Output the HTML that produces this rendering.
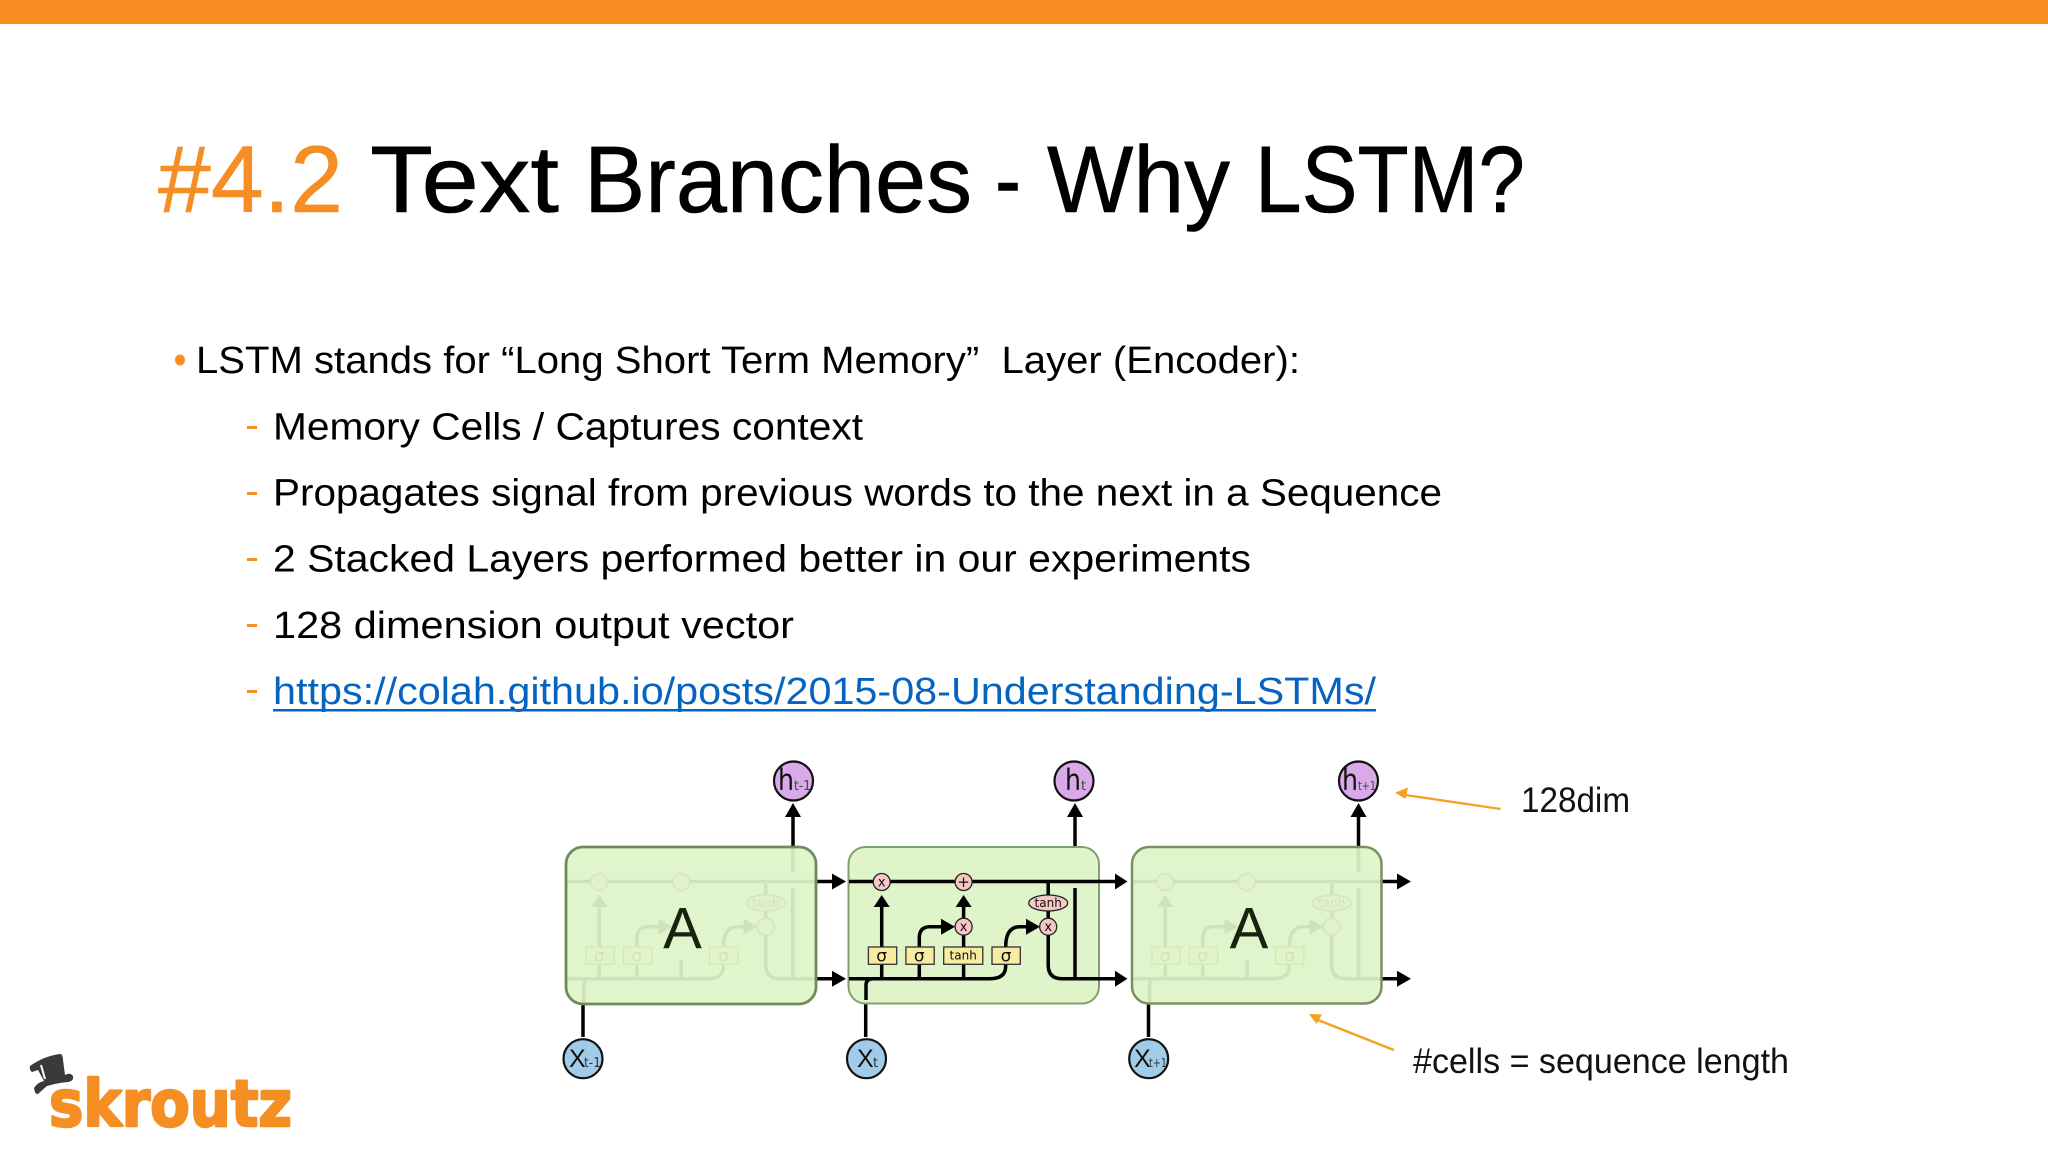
<!DOCTYPE html>
<html><head><meta charset="utf-8"><style>
html,body{margin:0;padding:0;background:#fff;width:2048px;height:1152px;overflow:hidden}
svg{display:block}
text{font-family:"Liberation Sans",sans-serif}
.sl{font-family:"DejaVu Sans",sans-serif}
.ln{fill:none;stroke:#000;stroke-width:3.5}
.ah{fill:#000}
.pk{fill:#f6c7c3;stroke:#222;stroke-width:1.3}
.yl{fill:#f8eca0;stroke:#333;stroke-width:1.3}
.t{font-family:"DejaVu Sans",sans-serif;text-anchor:middle;fill:#111}
.bd{font-size:38px;fill:#000}
.ti{font-size:95px;fill:#000;stroke:#000;stroke-width:.6}
</style></head><body>
<svg width="2048" height="1152" viewBox="0 0 2048 1152" xmlns="http://www.w3.org/2000/svg">
<rect width="2048" height="1152" fill="#fff"/>
<rect width="2048" height="24" fill="#f98f23"/>

<text x="158" y="212" font-size="95" fill="#f68e26" stroke="#f68e26" stroke-width=".6" textLength="185" lengthAdjust="spacingAndGlyphs">#4.2</text>
<text class="ti" x="370" y="212" textLength="189" lengthAdjust="spacingAndGlyphs">Text</text>
<text class="ti" x="584" y="212" textLength="388" lengthAdjust="spacingAndGlyphs">Branches</text>
<text class="ti" x="995" y="212" textLength="26" lengthAdjust="spacingAndGlyphs">-</text>
<text class="ti" x="1047" y="212" textLength="183" lengthAdjust="spacingAndGlyphs">Why</text>
<text class="ti" x="1255" y="212" textLength="270" lengthAdjust="spacingAndGlyphs">LSTM?</text>

<ellipse cx="180" cy="360" rx="5" ry="5.5" fill="#f68e26"/>
<text class="bd" x="196" y="373" textLength="1104" lengthAdjust="spacingAndGlyphs">LSTM stands for “Long Short Term Memory”&#160; Layer (Encoder):</text>
<g fill="#f68e26">
<rect x="247" y="426" width="10" height="3"/>
<rect x="247" y="492" width="10" height="3"/>
<rect x="247" y="558" width="10" height="3"/>
<rect x="247" y="624" width="10" height="3"/>
<rect x="247" y="690" width="10" height="3"/>
</g>
<text class="bd" x="273" y="439.5" textLength="590" lengthAdjust="spacingAndGlyphs">Memory Cells / Captures context</text>
<text class="bd" x="273" y="505.5" textLength="1169" lengthAdjust="spacingAndGlyphs">Propagates signal from previous words to the next in a Sequence</text>
<text class="bd" x="273" y="571.5" textLength="978" lengthAdjust="spacingAndGlyphs">2 Stacked Layers performed better in our experiments</text>
<text class="bd" x="273" y="638" textLength="521" lengthAdjust="spacingAndGlyphs">128 dimension output vector</text>
<text x="273" y="704" font-size="38" fill="#0563c1" textLength="1103" lengthAdjust="spacingAndGlyphs">https://colah.github.io/posts/2015-08-Understanding-LSTMs/</text>
<rect x="273" y="709" width="1103" height="2.5" fill="#0563c1"/>

<!-- outer connectors -->
<g class="ln">
<path d="M793 850V816"/><path d="M1075 872V816"/><path d="M1358.5 850V816"/>
<path d="M583 1004V1037"/><path d="M1148.5 1004V1037"/>
<path d="M865.7 1037V990Q865.7 978.7 875 978.7"/>
</g>
<g class="ah">
<polygon points="793,803 785,817 801,817"/>
<polygon points="1075,803 1067,817 1083,817"/>
<polygon points="1358.5,803 1350.5,817 1366.5,817"/>
</g>

<!-- cell 1 ghost -->
<g transform="translate(-282.4 0)">
<g class="ln">
<path d="M848 881.5H1098"/><path d="M848 978.7H990Q1005.7 978.7 1005.7 966V947Q1005.7 926.7 1020 926.7H1028"/>
<path d="M881.7 978.7V906"/><path d="M919.3 978.7V938Q919.3 926.7 930 926.7H942"/><path d="M963.6 978.7V960"/>
<path d="M1048.2 881.5V918"/><path d="M1048.2 935V965Q1048.2 978.7 1062 978.7H1098"/>
<path d="M1075 978.7V888"/><path d="M1075 848V872"/><path d="M866 1004V985Q866 978.7 873 978.7"/>
</g>
<g class="ah">
<polygon points="881.7,895 873.7,907 889.7,907"/>
<polygon points="955,926.7 941,918.7 941,934.7"/><polygon points="1040,926.7 1026,918.7 1026,934.7"/>
</g>
<circle class="pk" cx="881.7" cy="882" r="8.5"/><circle class="pk" cx="963.6" cy="882" r="8.5"/><circle class="pk" cx="1048.2" cy="926.7" r="8.5"/>
<ellipse class="pk" cx="1048.2" cy="903" rx="19.5" ry="8"/>
<rect class="yl" x="868.4" y="947" width="28.3" height="17.3"/><rect class="yl" x="905.9" y="947" width="28.3" height="17.3"/><rect class="yl" x="992" y="947" width="28.3" height="17.3"/>
<text class="t" x="881.7" y="961.5" font-size="17">σ</text><text class="t" x="919.3" y="961.5" font-size="17">σ</text><text class="t" x="1006" y="961.5" font-size="17">σ</text>
<text class="t" x="1048.2" y="907" font-size="12">tanh</text>
</g>
<g class="ln"><path d="M816 881.5H834"/><path d="M816 978.7H834"/></g>
<g class="ah"><polygon points="846,881.5 832,873.5 832,889.5"/><polygon points="846,978.7 832,970.7 832,986.7"/></g>
<rect x="566" y="847" width="250" height="157" rx="17" fill="#dff4c9" fill-opacity=".93" stroke="#6f8b59" stroke-width="2.8"/>
<text x="682.5" y="948.5" font-size="58" text-anchor="middle" fill="#17230f">A</text>

<!-- cell 2 -->
<rect x="848.5" y="847" width="250.5" height="156.5" rx="17" fill="#dff4c9" stroke="#80a06b" stroke-width="2"/>
<g class="ln">
<path d="M849 881.5H1116"/><path d="M849 978.7H990Q1005.7 978.7 1005.7 966V947Q1005.7 926.7 1020 926.7H1028"/>
<path d="M881.7 978.7V906"/><path d="M919.3 978.7V938Q919.3 926.7 930 926.7H942"/><path d="M963.6 978.7V906"/>
<path d="M1048.2 881.5V918"/><path d="M1048.2 935V965Q1048.2 978.7 1062 978.7H1116"/>
<path d="M1075 978.7V888"/><path d="M866 1000V985Q866 978.7 873 978.7"/>
</g>
<g class="ah">
<polygon points="881.7,895 873.7,907 889.7,907"/><polygon points="963.6,895 955.6,907 971.6,907"/>
<polygon points="955,926.7 941,918.7 941,934.7"/><polygon points="1040,926.7 1026,918.7 1026,934.7"/>
<polygon points="1127.5,881.5 1115,873.5 1115,889.5"/><polygon points="1127.5,978.7 1115,970.7 1115,986.7"/>
</g>
<circle class="pk" cx="881.7" cy="882" r="8.5"/><circle class="pk" cx="963.6" cy="882" r="8.5"/><circle class="pk" cx="963.6" cy="926.7" r="8.5"/><circle class="pk" cx="1048.2" cy="926.7" r="8.5"/>
<ellipse class="pk" cx="1048.2" cy="903" rx="19.5" ry="8"/>
<rect class="yl" x="868.4" y="947" width="28.3" height="17.3"/><rect class="yl" x="905.9" y="947" width="28.3" height="17.3"/><rect class="yl" x="943.7" y="947" width="39.1" height="17.3"/><rect class="yl" x="992" y="947" width="28.3" height="17.3"/>
<text class="t" x="881.7" y="961.5" font-size="17">σ</text><text class="t" x="919.3" y="961.5" font-size="17">σ</text><text class="t" x="963.2" y="959.5" font-size="12">tanh</text><text class="t" x="1006" y="961.5" font-size="17">σ</text>
<text class="t" x="1048.2" y="907" font-size="12">tanh</text>
<text class="t" x="881.7" y="886.5" font-size="13">x</text><text class="t" x="963.6" y="887" font-size="15">+</text><text class="t" x="963.6" y="931" font-size="13">x</text><text class="t" x="1048.2" y="931" font-size="13">x</text>

<!-- cell 3 ghost -->
<g transform="translate(283.5 0)">
<g class="ln">
<path d="M849 881.5H1098"/><path d="M849 978.7H990Q1005.7 978.7 1005.7 966V947Q1005.7 926.7 1020 926.7H1028"/>
<path d="M881.7 978.7V906"/><path d="M919.3 978.7V938Q919.3 926.7 930 926.7H942"/><path d="M963.6 978.7V960"/>
<path d="M1048.2 881.5V918"/><path d="M1048.2 935V965Q1048.2 978.7 1062 978.7H1098"/>
<path d="M1075 978.7V888"/><path d="M1075 848V872"/><path d="M866 1004V985Q866 978.7 873 978.7"/>
</g>
<g class="ah">
<polygon points="881.7,895 873.7,907 889.7,907"/>
<polygon points="955,926.7 941,918.7 941,934.7"/><polygon points="1040,926.7 1026,918.7 1026,934.7"/>
</g>
<circle class="pk" cx="881.7" cy="882" r="8.5"/><circle class="pk" cx="963.6" cy="882" r="8.5"/><circle class="pk" cx="1048.2" cy="926.7" r="8.5"/>
<ellipse class="pk" cx="1048.2" cy="903" rx="19.5" ry="8"/>
<rect class="yl" x="868.4" y="947" width="28.3" height="17.3"/><rect class="yl" x="905.9" y="947" width="28.3" height="17.3"/><rect class="yl" x="992" y="947" width="28.3" height="17.3"/>
<text class="t" x="881.7" y="961.5" font-size="17">σ</text><text class="t" x="919.3" y="961.5" font-size="17">σ</text><text class="t" x="1006" y="961.5" font-size="17">σ</text>
<text class="t" x="1048.2" y="907" font-size="12">tanh</text>
</g>
<g class="ln"><path d="M1381 881.5H1399"/><path d="M1381 978.7H1399"/></g>
<g class="ah"><polygon points="1411,881.5 1397,873.5 1397,889.5"/><polygon points="1411,978.7 1397,970.7 1397,986.7"/></g>
<rect x="1132" y="847" width="249.5" height="156.5" rx="17" fill="#dff4c9" fill-opacity=".93" stroke="#76925f" stroke-width="2.5"/>
<text x="1249" y="948.5" font-size="58" text-anchor="middle" fill="#17230f">A</text>

<!-- nodes -->
<g stroke="#111" stroke-width="2.2">
<circle cx="793.5" cy="781" r="19.5" fill="#d9a9e8"/>
<circle cx="1074" cy="781" r="19.5" fill="#d9a9e8"/>
<circle cx="1358.5" cy="781" r="19.5" fill="#d9a9e8"/>
<circle cx="583" cy="1058.7" r="19.5" fill="#a0cbe9"/>
<circle cx="866.5" cy="1058.7" r="19.5" fill="#a0cbe9"/>
<circle cx="1148.7" cy="1058.7" r="19.5" fill="#a0cbe9"/>
</g>
<g fill="#111">
<text class="sl" x="778" y="790" font-size="29" textLength="16" lengthAdjust="spacingAndGlyphs">h</text>
<text class="sl" x="794" y="790" font-size="13" fill="#444" textLength="17" lengthAdjust="spacingAndGlyphs">t-1</text>
<text class="sl" x="1065" y="790" font-size="29" textLength="16" lengthAdjust="spacingAndGlyphs">h</text>
<text class="sl" x="1081" y="790" font-size="13" fill="#444">t</text>
<text class="sl" x="1342" y="790" font-size="29" textLength="16" lengthAdjust="spacingAndGlyphs">h</text>
<text class="sl" x="1358" y="790" font-size="12" fill="#444" textLength="18" lengthAdjust="spacingAndGlyphs">t+1</text>
<text x="569" y="1067" font-size="25">X</text>
<text class="sl" x="584" y="1067" font-size="13" fill="#333" textLength="17" lengthAdjust="spacingAndGlyphs">t-1</text>
<text x="857" y="1067" font-size="25">X</text>
<text class="sl" x="873" y="1067" font-size="13" fill="#333">t</text>
<text x="1134" y="1067" font-size="25">X</text>
<text class="sl" x="1149" y="1067" font-size="12" fill="#333" textLength="18" lengthAdjust="spacingAndGlyphs">t+1</text>
</g>

<!-- annotations -->
<path d="M1500.5 809L1402 794.5" stroke="#f6a021" stroke-width="2.4" fill="none"/>
<polygon points="1395,792.7 1408,787.5 1405.5,799" fill="#f6a021"/>
<path d="M1393.8 1050L1317 1018" stroke="#f6a021" stroke-width="2.4" fill="none" transform="rotate(-1 1393 1050)"/>
<polygon points="1309,1014 1322,1014.5 1316.5,1024" fill="#f6a021"/>
<text x="1521" y="812" font-size="35" fill="#111" textLength="109" lengthAdjust="spacingAndGlyphs">128dim</text>
<text x="1413" y="1073" font-size="35" fill="#111" textLength="376" lengthAdjust="spacingAndGlyphs">#cells = sequence length</text>

<!-- logo -->
<path d="M30 1066Q44 1056 60 1054Q63 1054 63 1060L65 1075Q70 1072 73 1076Q74 1081 68 1082Q57 1083 47 1086Q40 1092 38 1094Q35 1095 34 1088Q38 1082 44 1081L38 1070L32 1072Q29 1070 30 1066Z" fill="#3b393b"/>
<path d="M41 1065L45 1079" stroke="#fff" stroke-width="2"/>
<text class="sl" x="49" y="1126" font-size="64" font-weight="bold" fill="#f58e23" stroke="#f58e23" stroke-width="2.5" stroke-linejoin="round" textLength="243" lengthAdjust="spacingAndGlyphs">skroutz</text>
</svg>
</body></html>
